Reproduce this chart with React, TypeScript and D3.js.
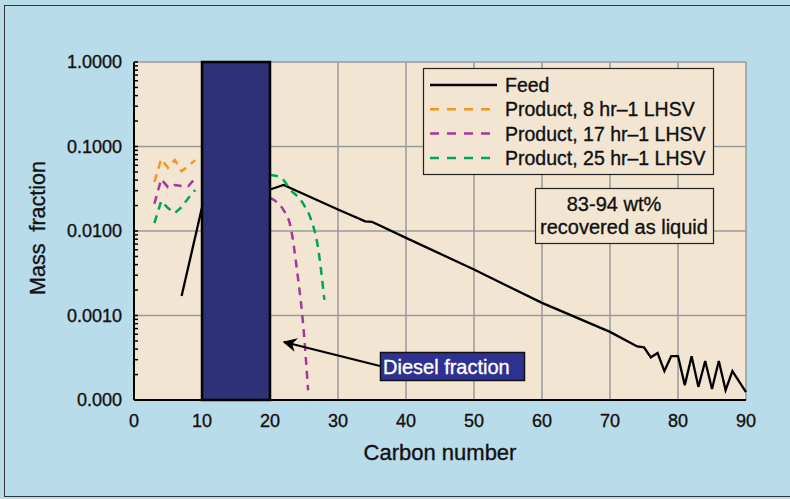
import React, { useEffect, useRef } from 'react';
import * as d3 from 'd3';

// [carbon number, mass fraction]
const feed = [
  [7, 0.0017], [10, 0.019], [20, 0.031], [22, 0.035], [30, 0.018], [34, 0.013],
  [35, 0.0128], [36, 0.0118], [40, 0.0083], [50, 0.0035], [60, 0.00141], [70, 0.00064],
  [74, 0.00043], [75, 0.00042], [76, 0.00032], [77, 0.00036], [78, 0.00022], [79, 0.00033],
  [80, 0.00033], [81, 0.00015], [82, 0.00033], [83, 0.000143], [84, 0.00029], [85, 0.000135],
  [86, 0.00029], [87, 0.000131], [88, 0.00022], [90, 0.000124],
];
const product8Left = [[3, 0.038], [4, 0.071], [5, 0.056], [6, 0.069], [7, 0.051], [8, 0.059], [9, 0.069]];
const product17Left = [[3, 0.021], [4, 0.041], [5, 0.033], [6, 0.035], [7, 0.034], [8, 0.034], [9, 0.042]];
const product17Right = [[20, 0.0246], [21, 0.022], [22, 0.0177], [23, 0.0115], [24, 0.0033], [25, 0.0006], [25.6, 0.00013]];
const product25Left = [[3, 0.0124], [4, 0.0226], [5, 0.0187], [6, 0.0163], [7, 0.0192], [8, 0.0246], [9, 0.0306]];
const product25Right = [[20, 0.046], [21, 0.0448], [22, 0.0401], [23, 0.0306], [24, 0.0259], [25, 0.0203], [26, 0.0139], [27, 0.0068], [28, 0.00153]];

const dieselRange = [10, 20];
const xTicks = [0, 10, 20, 30, 40, 50, 60, 70, 80, 90];
const yTicks = [0.0001, 0.001, 0.01, 0.1, 1];
const yTickLabels = ['0.000', '0.0010', '0.0100', '0.1000', '1.0000'];

const legendItems = [
  { label: 'Feed', color: '#000000', dash: null },
  { label: 'Product, 8 hr\u20131 LHSV', color: '#f7941d', dash: '9,8' },
  { label: 'Product, 17 hr\u20131 LHSV', color: '#a3399b', dash: '9,8' },
  { label: 'Product, 25 hr\u20131 LHSV', color: '#00a651', dash: '9,8' },
];

const FONT = '"Liberation Sans", Arial, Helvetica, sans-serif';

const App = () => {
  const chartRef = useRef(null);

  useEffect(() => {
    const svg = d3.select(chartRef.current);
    svg.selectAll('*').remove();

    const x = d3.scaleLinear().domain([0, 90]).range([134, 746]);
    const y = d3.scaleLog().domain([0.0001, 1]).range([400, 62]);

    // small helper so every label gets the same slightly heavier look
    const label = (sel, size, color = '#111') =>
      sel.attr('font-family', FONT).attr('font-size', size).attr('fill', color)
        .attr('stroke', color).attr('stroke-width', 0.35);

    // frame
    svg.append('rect').attr('x', 0).attr('y', 0).attr('width', 790).attr('height', 499).attr('fill', '#b9dcea');
    svg.append('rect').attr('x', 4.5).attr('y', 5.5).attr('width', 800).attr('height', 491)
      .attr('fill', 'none').attr('stroke', '#333').attr('stroke-width', 1);

    // plot background
    svg.append('rect').attr('x', x(0)).attr('y', y(1)).attr('width', x(90) - x(0)).attr('height', y(0.0001) - y(1))
      .attr('fill', '#f2e6d3');

    // grid
    const grid = svg.append('g').attr('stroke', '#9a9a9a').attr('stroke-width', 1.5);
    xTicks.slice(1).forEach(t => {
      grid.append('line').attr('x1', x(t)).attr('x2', x(t)).attr('y1', y(1)).attr('y2', y(0.0001));
    });
    yTicks.slice(1).forEach(t => {
      grid.append('line').attr('x1', x(0)).attr('x2', x(90)).attr('y1', y(t)).attr('y2', y(t));
    });

    const line = d3.line().x(d => x(d[0])).y(d => y(d[1]));
    const smooth = d3.line().x(d => x(d[0])).y(d => y(d[1])).curve(d3.curveMonotoneX);

    svg.append('path').attr('d', line(feed)).attr('fill', 'none').attr('stroke', '#000').attr('stroke-width', 2.3);

    const dashed = (data, color, gen) => {
      svg.append('path').attr('d', gen(data)).attr('fill', 'none').attr('stroke', color)
        .attr('stroke-width', 2.5).attr('stroke-dasharray', '8,6');
    };
    dashed(product8Left, legendItems[1].color, line);
    dashed(product17Left, legendItems[2].color, line);
    dashed(product25Left, legendItems[3].color, line);
    dashed(product17Right, legendItems[2].color, smooth);
    dashed(product25Right, legendItems[3].color, smooth);

    // diesel fraction band
    svg.append('rect').attr('x', x(dieselRange[0])).attr('y', y(1))
      .attr('width', x(dieselRange[1]) - x(dieselRange[0])).attr('height', y(0.0001) - y(1))
      .attr('fill', '#2e3175').attr('stroke', '#000').attr('stroke-width', 2.5);

    // axes
    svg.append('line').attr('x1', x(0)).attr('x2', x(0)).attr('y1', y(1)).attr('y2', y(0.0001))
      .attr('stroke', '#000').attr('stroke-width', 2);
    svg.append('line').attr('x1', x(0)).attr('x2', x(90)).attr('y1', y(0.0001)).attr('y2', y(0.0001))
      .attr('stroke', '#000').attr('stroke-width', 2);

    const minor = [];
    for (let e = -4; e < 0; e++) {
      for (let m = 1; m < 10; m++) minor.push(m * Math.pow(10, e));
    }
    minor.push(1);
    svg.append('g').selectAll('line').data(minor).enter().append('line')
      .attr('x1', x(0)).attr('x2', x(0) + 4).attr('y1', d => y(d)).attr('y2', d => y(d))
      .attr('stroke', '#000').attr('stroke-width', 1.5);

    label(svg.append('g').selectAll('text').data(yTicks).enter().append('text')
      .attr('x', 122).attr('y', d => y(d) + 6).attr('text-anchor', 'end'), 18)
      .text((d, i) => yTickLabels[i]);

    label(svg.append('g').selectAll('text').data(xTicks).enter().append('text')
      .attr('x', d => x(d)).attr('y', 427).attr('text-anchor', 'middle'), 18)
      .text(d => d);

    label(svg.append('text').attr('x', 440).attr('y', 460).attr('text-anchor', 'middle'), 22)
      .text('Carbon number');
    label(svg.append('text').attr('transform', `translate(45, 228) rotate(-90)`).attr('text-anchor', 'middle'), 21.5)
      .style('white-space', 'pre').text('Mass  fraction');

    // legend
    const lg = svg.append('g');
    lg.append('rect').attr('x', 423.5).attr('y', 68.5).attr('width', 290).attr('height', 106)
      .attr('fill', '#f2e6d3').attr('stroke', '#222').attr('stroke-width', 1.2);
    legendItems.forEach((it, i) => {
      const cy = 85 + i * 24.3;
      lg.append('line').attr('x1', 430).attr('x2', 497).attr('y1', cy).attr('y2', cy)
        .attr('stroke', it.color).attr('stroke-width', 2.5).attr('stroke-dasharray', it.dash);
      label(lg.append('text').attr('x', 505).attr('y', cy + 7), 19.5).text(it.label);
    });

    // recovery note
    svg.append('rect').attr('x', 535.5).attr('y', 188.5).attr('width', 178).attr('height', 55)
      .attr('fill', '#f2e6d3').attr('stroke', '#222').attr('stroke-width', 1.2);
    label(svg.append('text').attr('x', 614).attr('y', 211).attr('text-anchor', 'middle'), 20).text('83-94 wt%');
    label(svg.append('text').attr('x', 624).attr('y', 234).attr('text-anchor', 'middle'), 20).text('recovered as liquid');

    // diesel label + arrow
    svg.append('defs').append('marker').attr('id', 'arrow').attr('viewBox', '0 0 10 10')
      .attr('refX', 9).attr('refY', 5).attr('markerWidth', 7).attr('markerHeight', 7)
      .attr('markerUnits', 'strokeWidth').attr('orient', 'auto')
      .append('path').attr('d', 'M0,0 L10,5 L0,10 L3,5 Z').attr('fill', '#000');
    svg.append('line').attr('x1', 380).attr('y1', 366).attr('x2', 284).attr('y2', 342)
      .attr('stroke', '#000').attr('stroke-width', 2).attr('marker-end', 'url(#arrow)');
    svg.append('rect').attr('x', 380.5).attr('y', 352.5).attr('width', 144).attr('height', 28)
      .attr('fill', '#2e3190').attr('stroke', '#111').attr('stroke-width', 1.5);
    label(svg.append('text').attr('x', 383).attr('y', 374), 20, '#fff').text('Diesel fraction');
  }, []);

  return (
    <div style={{ position: 'absolute', left: 0, top: 0, width: 790, height: 499 }}>
      <svg ref={chartRef} width={790} height={499} style={{ display: 'block' }}></svg>
    </div>
  );
};

export default App;
